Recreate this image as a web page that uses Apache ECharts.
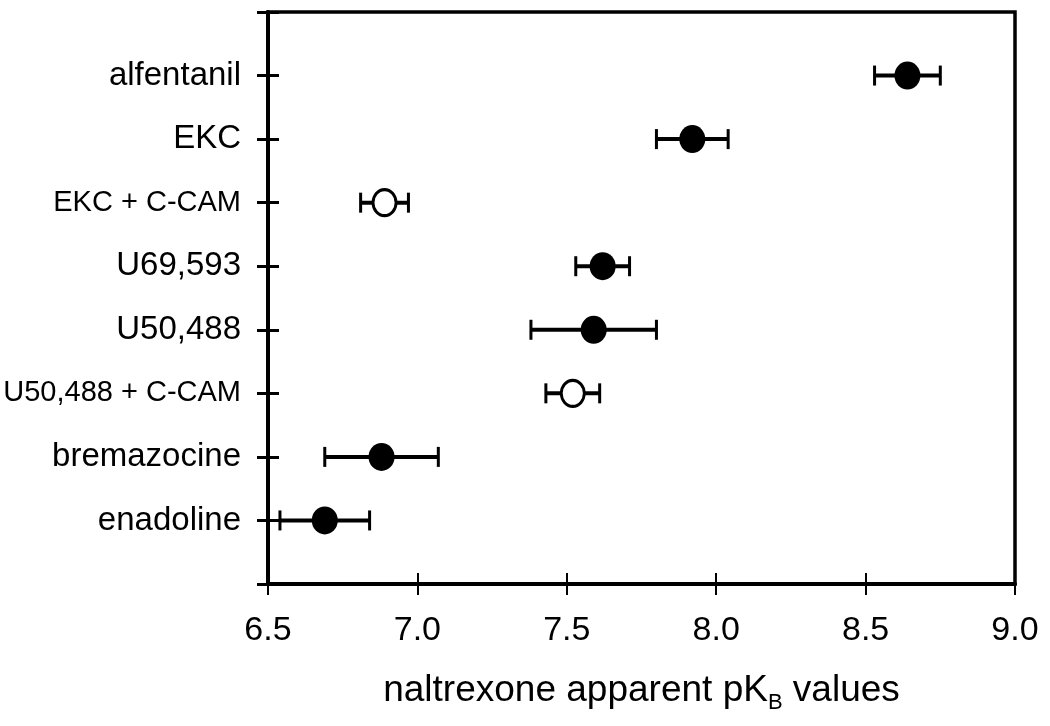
<!DOCTYPE html>
<html>
<head>
<meta charset="utf-8">
<script src="https://cdn.jsdelivr.net/npm/echarts@6/dist/echarts.min.js"></script>
<style>
  html, body { margin: 0; padding: 0; background: #fff; }
  #chart { width: 1050px; height: 726px; }
</style>
</head>
<body>
<div id="chart"></div>
<script>
// agonists, top to bottom
var agonists = ['alfentanil', 'EKC', 'EKC + C-CAM', 'U69,593', 'U50,488',
  'U50,488 + C-CAM', 'bremazocine', 'enadoline'];
// naltrexone apparent pKB (mean, lower and upper error bar end)
var pkbMean = [8.64, 7.92, 6.89, 7.62, 7.59, 7.52, 6.88, 6.69];
var pkbLow = [8.53, 7.80, 6.81, 7.53, 7.38, 7.43, 6.69, 6.54];
var pkbHigh = [8.75, 8.04, 6.97, 7.71, 7.80, 7.61, 7.07, 6.84];
// open symbol = with C-CAM
var withCCAM = [false, false, true, false, false, true, false, false];
var xTicks = [6.5, 7.0, 7.5, 8.0, 8.5, 9.0];

var errData = agonists.map(function (n, i) {
  return [pkbMean[i], i + 1, pkbLow[i], pkbHigh[i]];
});
var filledPts = [], openPts = [];
agonists.forEach(function (n, i) {
  (withCCAM[i] ? openPts : filledPts).push([pkbMean[i], i + 1]);
});

var font = 'Liberation Sans, Arial, sans-serif';
var xMin = xTicks[0], xMax = xTicks[xTicks.length - 1];

function renderErr(params, api) {
  var y = api.value(1);
  var a = api.coord([api.value(2), y]);
  var b = api.coord([api.value(3), y]);
  var cap = 10;
  var capStyle = { stroke: '#000', lineWidth: 3 };
  return {
    type: 'group',
    children: [
      { type: 'line', shape: { x1: a[0], y1: a[1], x2: b[0], y2: b[1] }, style: { stroke: '#000', lineWidth: 4 } },
      { type: 'line', shape: { x1: a[0], y1: a[1] - cap, x2: a[0], y2: a[1] + cap }, style: capStyle },
      { type: 'line', shape: { x1: b[0], y1: b[1] - cap, x2: b[0], y2: b[1] + cap }, style: capStyle }
    ]
  };
}

// second grid on the same rect only carries the inside half of the ticks
var gridRect = { left: 268, right: 35, top: 12, bottom: 142 };

var chart = echarts.init(document.getElementById('chart'));
chart.setOption({
  animation: false,
  backgroundColor: '#fff',
  grid: [
    Object.assign({ show: true, borderColor: '#000', borderWidth: 3.5 }, gridRect),
    Object.assign({ show: false }, gridRect)
  ],
  xAxis: [{
    gridIndex: 0, type: 'value', min: xMin, max: xMax, interval: 0.5,
    position: 'bottom',
    splitLine: { show: false },
    axisLine: { onZero: false, lineStyle: { color: '#000', width: 4 } },
    axisTick: { length: 11, lineStyle: { color: '#000', width: 2 } },
    axisLabel: {
      margin: 30, color: '#000', fontFamily: font, fontSize: 34,
      formatter: function (v) { return v.toFixed(1); }
    },
    name: 'naltrexone apparent pK{sub|B} values',
    nameLocation: 'middle', nameGap: 84,
    nameTextStyle: {
      color: '#000', fontFamily: font, fontSize: 37, lineHeight: 46,
      rich: { sub: { fontFamily: font, fontSize: 22, lineHeight: 22, verticalAlign: 'bottom', color: '#000' } }
    }
  }, {
    gridIndex: 1, type: 'value', min: xMin, max: xMax, interval: 0.5,
    position: 'bottom',
    splitLine: { show: false },
    axisLine: { show: false, onZero: false },
    axisTick: { inside: true, length: 11, lineStyle: { color: '#000', width: 2 } },
    axisLabel: { show: false }
  }],
  yAxis: [{
    gridIndex: 0, type: 'value', min: 0, max: 9, interval: 1, inverse: true,
    position: 'left',
    splitLine: { show: false },
    axisLine: { onZero: false, lineStyle: { color: '#000', width: 4 } },
    axisTick: { length: 11, lineStyle: { color: '#000', width: 3 } },
    axisLabel: {
      margin: 27, color: '#000', fontFamily: font, fontSize: 33,
      formatter: function (v) {
        var n = agonists[v - 1];
        if (!n) return '';
        return n.indexOf('C-CAM') >= 0 ? '{s|' + n + '}' : n;
      },
      rich: { s: { fontFamily: font, fontSize: 29, color: '#000' } }
    }
  }, {
    gridIndex: 1, type: 'value', min: 0, max: 9, interval: 1, inverse: true,
    position: 'left',
    splitLine: { show: false },
    axisLine: { show: false, onZero: false },
    axisTick: { inside: true, length: 11, lineStyle: { color: '#000', width: 3 } },
    axisLabel: { show: false }
  }],
  series: [{
    type: 'custom',
    renderItem: renderErr,
    data: errData,
    z: 2
  }, {
    type: 'scatter',
    data: filledPts,
    symbol: 'circle', symbolSize: [26, 28],
    itemStyle: { color: '#000', opacity: 1 },
    z: 3
  }, {
    type: 'scatter',
    data: openPts,
    symbol: 'circle', symbolSize: [23, 26],
    itemStyle: { color: '#fff', borderColor: '#000', borderWidth: 3, opacity: 1 },
    z: 3
  }]
});
</script>
</body>
</html>
